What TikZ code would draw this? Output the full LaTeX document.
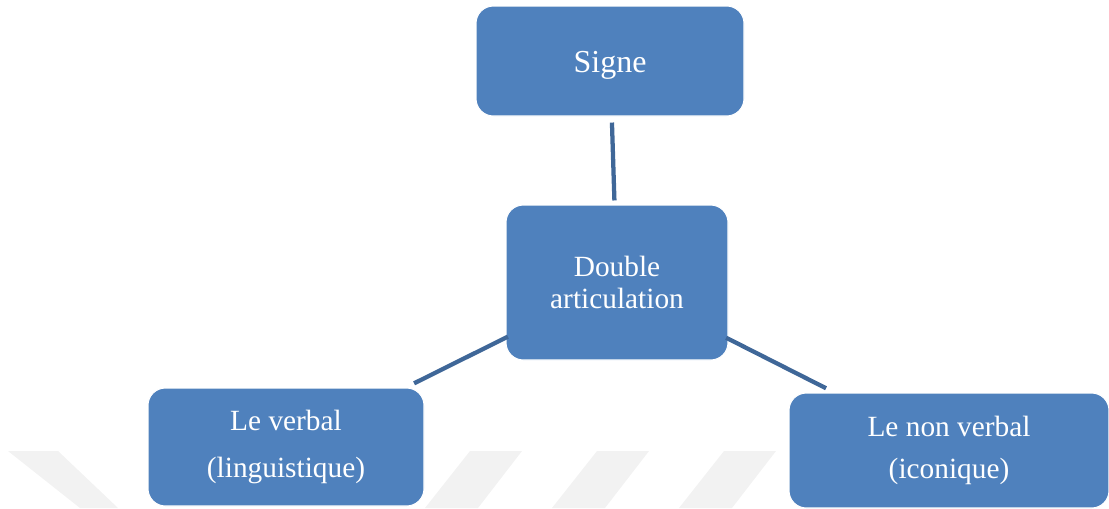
\documentclass[tikz,border=0pt]{standalone}
\usepackage{fontspec}
\setmainfont{Liberation Serif}
\usepackage{xcolor}
\definecolor{boxblue}{HTML}{4F81BD}
\definecolor{linkblue}{HTML}{3F6798}
\definecolor{markgray}{HTML}{F2F2F2}

\begin{document}
\begin{tikzpicture}[x=0.75pt,y=-0.75pt,
    box/.style={rectangle, rounded corners=13pt, fill=boxblue, draw=white,
      line width=0.8pt, text=white, align=center, inner sep=0pt},
    link/.style={draw=linkblue, line width=3.2pt}]
  \useasboundingbox (0,0) rectangle (1109,508);

  % watermark stripes
  \fill[markgray] (8,451) -- (58,451) -- (118,508) -- (80,508) -- cycle;
  \foreach \s in {0,127,254}
    \fill[markgray] (470+\s,451) -- (522+\s,451) -- (478+\s,508) -- (425+\s,508) -- cycle;

  % boxes
  \node[box, minimum width=201pt, minimum height=82.5pt,
    font=\fontsize{24}{25}\selectfont] (sig) at (610,61) {\raisebox{-3pt}[\height][\depth]{Signe}};
  \node[box, minimum width=166.5pt, minimum height=116.25pt,
    font=\fontsize{22}{23.5}\selectfont] (dbl) at (617,282.5) {Double\\articulation};
  \node[box, minimum width=207pt, minimum height=88.5pt,
    font=\fontsize{22}{35}\selectfont] (verb) at (286,447) {Le verbal\\(linguistique)};
  \node[box, minimum width=240pt, minimum height=86.25pt,
    font=\fontsize{22}{31}\selectfont] (nonv) at (949,450.5) {Le non verbal\\(iconique)};

  % links
  \draw[link, shorten <=4.5pt, shorten >=3pt] (sig) -- (dbl);
  \draw[link, shorten <=-2pt, shorten >=7pt] (dbl) -- (verb);
  \draw[link, shorten <=-2pt, shorten >=7pt] (dbl) -- (nonv);
\end{tikzpicture}
\end{document}
